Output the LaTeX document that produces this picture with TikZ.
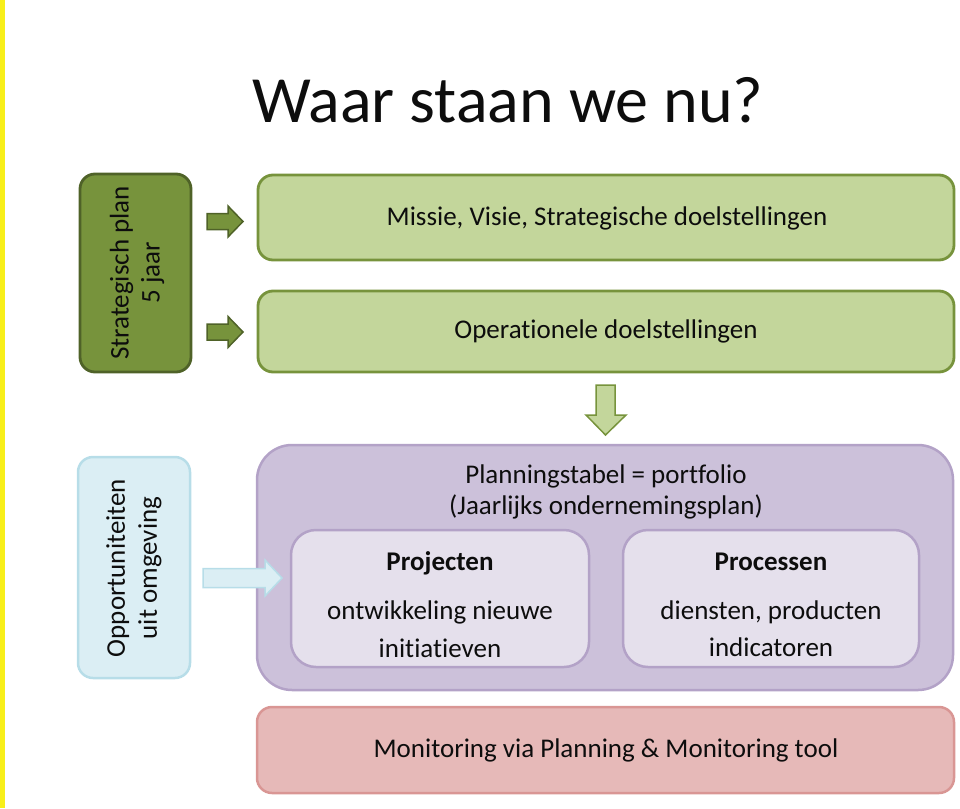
\documentclass[tikz,border=0pt]{standalone}
\usepackage{fontspec}
\setmainfont{Carlito}[Ligatures={NoCommon}]
\definecolor{yellowbar}{HTML}{F8EF1A}
\definecolor{dgfill}{HTML}{77933C}
\definecolor{dgline}{HTML}{4F6228}
\definecolor{lgfill}{HTML}{C3D69B}
\definecolor{lgline}{HTML}{77933C}
\definecolor{blfill}{HTML}{DBEEF4}
\definecolor{blline}{HTML}{B7DDE8}
\definecolor{pufill}{HTML}{CCC1DA}
\definecolor{puline}{HTML}{B3A2C7}
\definecolor{pifill}{HTML}{E5E0EC}
\definecolor{rdfill}{HTML}{E6B9B8}
\definecolor{rdline}{HTML}{D99694}
\definecolor{txt}{HTML}{0D0D0D}
\begin{document}
\begin{tikzpicture}[x=1pt,y=-1pt,
  box/.style={rectangle, inner sep=0pt, outer sep=0pt, line width=2.5pt, rounded corners=15pt},
  dgbox/.style={box, draw=dgline, fill=dgfill, line width=2.8pt},
  lgbox/.style={box, draw=lgline, fill=lgfill, line width=2.8pt},
  blbox/.style={box, draw=blline, fill=blfill},
  pubox/.style={box, draw=puline, fill=pufill, rounded corners=35pt},
  pibox/.style={box, draw=puline, fill=pifill, rounded corners=25pt},
  rdbox/.style={box, draw=rdline, fill=rdfill},
  lbl/.style={text=txt, font=\fontsize{27}{31}\selectfont, align=center, inner sep=0pt},
  blockarrow/.style={line width=1.5pt, line join=miter}
]
\useasboundingbox (0,0) rectangle (960,808);
\fill[fill=yellowbar] (0,0) rectangle (5,808);

% title
\node[anchor=base west, inner sep=0pt, text=txt, font=\fontsize{66}{70}\selectfont] (title) at (252,122) {Waar staan we nu?};

% boxes
\node[dgbox, minimum width=111pt, minimum height=198pt] (plan) at (135.5,273) {};
\node[lgbox, minimum width=696pt, minimum height=85pt] (missie) at (606,217.5) {};
\node[lgbox, minimum width=696pt, minimum height=81pt] (oper) at (606,331.5) {};
\node[blbox, minimum width=112pt, minimum height=221pt] (opp) at (134,567.5) {};
\node[pubox, minimum width=696pt, minimum height=245pt] (plant) at (605,567.5) {};
\node[pibox, minimum width=298pt, minimum height=137pt] (proj) at (440,598.5) {};
\node[pibox, minimum width=296pt, minimum height=137pt] (proc) at (771,598.5) {};
\node[rdbox, minimum width=697pt, minimum height=86pt] (mon) at (605.5,750) {};

% texts
\node[lbl, rotate=90] (plantxt) at (137,273) {Strategisch plan\\5 jaar};
\node[lbl, rotate=90, font=\fontsize{27}{32}\selectfont] (opptxt) at (134,568) {Opportuniteiten\\uit omgeving};
\node[lbl] (missietxt) at (607,218) {Missie, Visie, Strategische doelstellingen};
\node[lbl] (opertxt) at (606,331) {Operationele doelstellingen};
\node[lbl, font=\fontsize{27}{31}\selectfont] (planttxt) at (606,492) {Planningstabel = portfolio\\(Jaarlijks ondernemingsplan)};
\node[lbl, font=\bfseries\fontsize{27}{31}\selectfont] (projtitle) at (440,563) {Projecten};
\node[lbl, font=\fontsize{27}{38}\selectfont] (projtxt) at (440,629) {ontwikkeling nieuwe\\initiatieven};
\node[lbl, font=\bfseries\fontsize{27}{31}\selectfont] (proctitle) at (771,562) {Processen};
\node[lbl, font=\fontsize{27}{37}\selectfont] (proctxt) at (771,628.5) {diensten, producten\\indicatoren};
\node[lbl] (montxt) at (606,750) {Monitoring via Planning \& Monitoring tool};

% block arrows
\draw[blockarrow, draw=dgline, fill=dgfill]
  (207,213.5) -- (228,213.5) -- (228,206) -- (243,221.5) -- (228,237) -- (228,229.5) -- (207,229.5) -- cycle;
\draw[blockarrow, draw=dgline, fill=dgfill]
  (207,324) -- (228,324) -- (228,316.5) -- (243,332) -- (228,347.5) -- (228,340) -- (207,340) -- cycle;
\draw[blockarrow, draw=lgline, fill=lgfill]
  (596,385) -- (615,385) -- (615,415) -- (626,415) -- (605.5,435) -- (586,415) -- (596,415) -- cycle;
\draw[blockarrow, draw=blline, fill=blfill]
  (203,568.5) -- (265,568.5) -- (265,560) -- (282,578) -- (265,596) -- (265,587.5) -- (203,587.5) -- cycle;
\end{tikzpicture}
\end{document}
